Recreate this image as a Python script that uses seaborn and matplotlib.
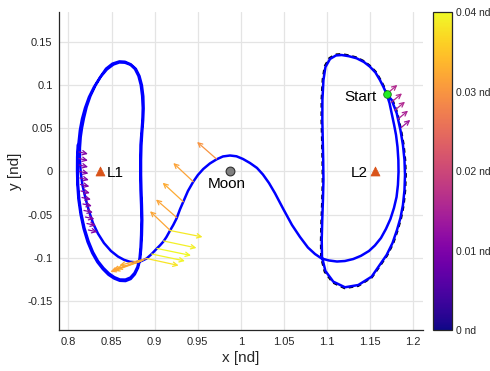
import matplotlib
matplotlib.use("Agg")
import matplotlib.pyplot as plt
from matplotlib.colors import Normalize
from matplotlib.cm import ScalarMappable
import numpy as np
import pandas as pd
import seaborn as sns

# Reference periodic orbit about L2 (dashed)
ref_x = [1.1696, 1.1757, 1.1816, 1.1858, 1.1889, 1.1907, 1.1914, 1.1907, 1.1889, 1.1859,
         1.1819, 1.1767, 1.1696, 1.1607, 1.1519, 1.1361, 1.1203, 1.1065, 1.0972, 1.0931,
         1.0928, 1.0934, 1.0943, 1.0949, 1.0946, 1.0941, 1.0935, 1.0936, 1.0949, 1.0972,
         1.1026, 1.1097, 1.1164, 1.1251, 1.1341, 1.1428, 1.1499, 1.1564, 1.1617, 1.1659,
         1.1696]
ref_y = [0.0904, 0.0835, 0.0679, 0.0484, 0.0309, 0.0134, -0.0040, -0.0216, -0.0391, -0.0542,
         -0.0682, -0.0834, -0.0974, -0.1103, -0.1227, -0.1325, -0.1351, -0.1285, -0.1161, -0.0998,
         -0.0799, -0.0566, -0.0333, -0.0099, 0.0134, 0.0368, 0.0601, 0.0835, 0.1067, 0.1219,
         0.1312, 0.1354, 0.1359, 0.1345, 0.1320, 0.1277, 0.1223, 0.1155, 0.1067, 0.0986,
         0.0904]

# Leg 1: first revolution about L2 from the start point
leg1_x = [1.1691, 1.1749, 1.1808, 1.1851, 1.1880, 1.1898, 1.1904, 1.1898, 1.1880, 1.1851,
          1.1811, 1.1759, 1.1691, 1.1602, 1.1517, 1.1362, 1.1207, 1.1072, 1.0981, 1.0941,
          1.0938, 1.0944, 1.0952, 1.0958, 1.0955, 1.0950, 1.0945, 1.0946, 1.0958, 1.0981,
          1.1034, 1.1103, 1.1169, 1.1254, 1.1343, 1.1428, 1.1497, 1.1561, 1.1613, 1.1654,
          1.1691]
leg1_y = [0.0897, 0.0828, 0.0674, 0.0480, 0.0307, 0.0133, -0.0040, -0.0214, -0.0388, -0.0538,
          -0.0677, -0.0828, -0.0966, -0.1094, -0.1217, -0.1314, -0.1340, -0.1275, -0.1152, -0.0990,
          -0.0793, -0.0562, -0.0330, -0.0098, 0.0133, 0.0365, 0.0596, 0.0828, 0.1059, 0.1209,
          0.1302, 0.1343, 0.1348, 0.1334, 0.1310, 0.1267, 0.1213, 0.1146, 0.1059, 0.0978,
          0.0897]

# Leg 2: departure from L2 and flyby past the Moon
leg2_x = [1.1691, 1.1724, 1.1749, 1.1778, 1.1800, 1.1817, 1.1827, 1.1829, 1.1822, 1.1806,
          1.1776, 1.1735, 1.1683, 1.1625, 1.1555, 1.1486, 1.1393, 1.1304, 1.1207, 1.1115,
          1.1022, 1.0937, 1.0860, 1.0778, 1.0686, 1.0593, 1.0492, 1.0396, 1.0326, 1.0256,
          1.0187, 1.0106, 1.0024, 0.9949, 0.9874, 0.9792, 0.9719, 0.9641, 0.9564, 0.9502,
          0.9448, 0.9386, 0.9332, 0.9293, 0.9255, 0.9216, 0.9177, 0.9137, 0.9102, 0.9061,
          0.9026, 0.8965, 0.8907]
leg2_y = [0.0897, 0.0793, 0.0674, 0.0538, 0.0422, 0.0284, 0.0133, -0.0006, -0.0156, -0.0295,
          -0.0422, -0.0550, -0.0665, -0.0770, -0.0856, -0.0920, -0.0976, -0.1013, -0.1036, -0.1042,
          -0.1030, -0.1007, -0.0955, -0.0880, -0.0758, -0.0619, -0.0434, -0.0252, -0.0133, -0.0035,
          0.0041, 0.0098, 0.0145, 0.0176, 0.0185, 0.0174, 0.0141, 0.0093, 0.0029, -0.0040,
          -0.0118, -0.0226, -0.0350, -0.0440, -0.0542, -0.0619, -0.0686, -0.0758, -0.0810, -0.0856,
          -0.0891, -0.0955, -0.1007]

# Leg 3: capture and revolutions about L1
leg3_x = [0.8847, 0.8783, 0.8713, 0.8644, 0.8574, 0.8493, 0.8412, 0.8342, 0.8284, 0.8238,
          0.8197, 0.8162, 0.8142, 0.8133, 0.8133, 0.8142, 0.8157, 0.8180, 0.8211, 0.8255,
          0.8313, 0.8377, 0.8446, 0.8522, 0.8591, 0.8655, 0.8719, 0.8771, 0.8812, 0.8839,
          0.8855, 0.8862, 0.8858, 0.8847, 0.8836, 0.8833, 0.8833, 0.8836, 0.8843, 0.8847,
          0.8843, 0.8836, 0.8824, 0.8800, 0.8766, 0.8719, 0.8661, 0.8597, 0.8533, 0.8470,
          0.8406, 0.8342, 0.8284, 0.8232, 0.8185, 0.8150, 0.8125, 0.8112, 0.8108, 0.8109,
          0.8117, 0.8133, 0.8157, 0.8192, 0.8238, 0.8296, 0.8365, 0.8436, 0.8510, 0.8591,
          0.8655, 0.8722, 0.8782, 0.8824, 0.8852, 0.8868, 0.8872, 0.8866, 0.8855, 0.8846,
          0.8842, 0.8842, 0.8846, 0.8852, 0.8856, 0.8852, 0.8844, 0.8831, 0.8807, 0.8770,
          0.8722, 0.8662, 0.8596, 0.8529, 0.8464, 0.8399, 0.8335, 0.8276, 0.8222, 0.8176,
          0.8141, 0.8116, 0.8104, 0.8100, 0.8101, 0.8108]
leg3_y = [-0.1036, -0.1051, -0.1045, -0.1022, -0.0984, -0.0920, -0.0828, -0.0718, -0.0596, -0.0457,
          -0.0307, -0.0156, -0.0006, 0.0133, 0.0272, 0.0399, 0.0503, 0.0619, 0.0747, 0.0874,
          0.0995, 0.1100, 0.1181, 0.1238, 0.1262, 0.1259, 0.1235, 0.1186, 0.1105, 0.1001,
          0.0874, 0.0735, 0.0596, 0.0457, 0.0307, 0.0133, -0.0040, -0.0214, -0.0388, -0.0562,
          -0.0735, -0.0885, -0.1013, -0.1105, -0.1175, -0.1227, -0.1251, -0.1250, -0.1223, -0.1180,
          -0.1117, -0.1036, -0.0932, -0.0805, -0.0654, -0.0492, -0.0318, -0.0156, 0.0006, 0.0168,
          0.0330, 0.0480, 0.0608, 0.0735, 0.0862, 0.0978, 0.1088, 0.1190, 0.1248, 0.1274,
          0.1270, 0.1241, 0.1187, 0.1104, 0.0998, 0.0870, 0.0728, 0.0588, 0.0448, 0.0297,
          0.0133, -0.0040, -0.0214, -0.0388, -0.0562, -0.0735, -0.0885, -0.1020, -0.1115, -0.1190,
          -0.1244, -0.1268, -0.1265, -0.1238, -0.1195, -0.1130, -0.1048, -0.0944, -0.0815, -0.0662,
          -0.0498, -0.0323, -0.0156, 0.0006, 0.0168, 0.0307]

# Control (thrust) vectors: application points and components
arrow_x = [1.1691, 1.1745, 1.1782, 1.1823, 1.1861,
           0.8122, 0.8122, 0.8124, 0.8128, 0.8133, 0.8139, 0.8145, 0.8157, 0.8168, 0.8180,
           0.8197, 0.8215, 0.8232,
           0.9717, 0.9448, 0.9332, 0.9255, 0.9178,
           0.9178, 0.9102, 0.9027, 0.8965, 0.8907,
           0.8907, 0.8870, 0.8847, 0.8815, 0.8783]
arrow_y = [0.0897, 0.0801, 0.0706, 0.0607, 0.0509,
           0.0226, 0.0150, 0.0075, 0.0000, -0.0075, -0.0150, -0.0226, -0.0301, -0.0376, -0.0451,
           -0.0527, -0.0602, -0.0677,
           0.0145, -0.0118, -0.0350, -0.0532, -0.0680,
           -0.0683, -0.0804, -0.0891, -0.0955, -0.1007,
           -0.1007, -0.1025, -0.1036, -0.1046, -0.1051]
arrow_u = [0.0124, 0.0124, 0.0122, 0.0116, 0.0104,
           0.0104, 0.0104, 0.0104, 0.0104, 0.0104, 0.0104, 0.0104, 0.0104, 0.0104, 0.0104,
           0.0104, 0.0104, 0.0104,
           -0.0225, -0.0232, -0.0239, -0.0240, -0.0232,
           0.0377, 0.0383, 0.0394, 0.0386, 0.0371,
           -0.0315, -0.0312, -0.0318, -0.0300, -0.0296]
arrow_v = [0.0105, 0.0103, 0.0101, 0.0097, 0.0088,
           -0.0023, -0.0023, -0.0023, -0.0023, -0.0023, -0.0023, -0.0023, -0.0023, -0.0023, -0.0023,
           -0.0023, -0.0023, -0.0023,
           0.0197, 0.0216, 0.0220, 0.0208, 0.0220,
           -0.0075, -0.0081, -0.0081, -0.0081, -0.0081,
           -0.0080, -0.0105, -0.0115, -0.0095, -0.0110]

# Libration points, Moon and start point
lib_names = ["L1", "L2"]
lib_x = [0.8369, 1.1557]
lib_y = [0.0, 0.0]
moon_x = [0.98785]
moon_y = [0.0]
start_x = [1.1691]
start_y = [0.0897]

x_ticks = [0.8, 0.85, 0.9, 0.95, 1.0, 1.05, 1.1, 1.15, 1.2]
x_tick_labels = ["0.8", "0.85", "0.9", "0.95", "1", "1.05", "1.1", "1.15", "1.2"]
y_ticks = [-0.15, -0.1, -0.05, 0.0, 0.05, 0.1, 0.15]
y_tick_labels = ["-0.15", "-0.1", "-0.05", "0", "0.05", "0.1", "0.15"]
cbar_ticks = [0.0, 0.01, 0.02, 0.03, 0.04]
cbar_labels = ["0 nd", "0.01 nd", "0.02 nd", "0.03 nd", "0.04 nd"]

sns.set_theme(style="whitegrid")
plt.rcParams["font.family"] = ["Liberation Sans", "DejaVu Sans"]

ink = "#262626"
fig = plt.figure(figsize=(4.9, 3.71), dpi=100)
ax = fig.add_axes([0.1214, 0.1097, 0.7412, 0.8580])
cax = fig.add_axes([0.8843, 0.1097, 0.0388, 0.8571])

ref = pd.DataFrame({"x": ref_x, "y": ref_y})
sns.lineplot(data=ref, x="x", y="y", sort=False, estimator=None, ax=ax,
             color="black", linewidth=1.5, linestyle=(0, (2.2, 1.8)), zorder=2)

traj = pd.DataFrame({"x": leg1_x + leg2_x[1:] + leg3_x,
                     "y": leg1_y + leg2_y[1:] + leg3_y})
sns.lineplot(data=traj, x="x", y="y", sort=False, estimator=None, ax=ax,
             color="#0000ff", linewidth=1.8, zorder=3)

cmap = plt.get_cmap("plasma")
norm = Normalize(vmin=0.0, vmax=0.04)
for x0, y0, u, v in zip(arrow_x, arrow_y, arrow_u, arrow_v):
    mag = np.hypot(u, v)
    ax.annotate("", xy=(x0 + u, y0 + v), xytext=(x0, y0),
                arrowprops=dict(arrowstyle="->,head_length=0.26,head_width=0.13",
                                color=cmap(norm(mag)), lw=0.9,
                                shrinkA=0, shrinkB=0),
                zorder=4)

sns.scatterplot(x=lib_x, y=lib_y, marker="^", s=42, color="#D95319",
                edgecolor="#D95319", ax=ax, zorder=5, legend=False)
sns.scatterplot(x=moon_x, y=moon_y, marker="o", s=40, color="#808080",
                edgecolor="#303030", linewidth=0.8, ax=ax, zorder=5, legend=False)
sns.scatterplot(x=start_x, y=start_y, marker="o", s=30, color="#22ee22",
                edgecolor="#1a7a1a", linewidth=0.6, ax=ax, zorder=6, legend=False)

txt = dict(fontsize=11, color="black", zorder=7)
ax.text(lib_x[0] + 0.008, lib_y[0] - 0.002, lib_names[0], ha="left", va="center", **txt)
ax.text(lib_x[1] - 0.008, lib_y[1] - 0.002, lib_names[1], ha="right", va="center", **txt)
ax.text(moon_x[0] - 0.004, moon_y[0] - 0.0145, "Moon", ha="center", va="center", **txt)
ax.text(start_x[0] - 0.0116, start_y[0] - 0.004, "Start", ha="right", va="center", **txt)

ax.set_xlim(0.7896, 1.2109)
ax.set_ylim(-0.1838, 0.1846)
ax.set_xticks(x_ticks)
ax.set_xticklabels(x_tick_labels)
ax.set_yticks(y_ticks)
ax.set_yticklabels(y_tick_labels)
ax.tick_params(direction="in", length=3, width=0.7, color=ink, labelcolor=ink,
               labelsize=8, pad=5)
ax.grid(True, color="#e4e4e4", linewidth=0.9)
ax.set_axisbelow(True)
for side in ["top", "right"]:
    ax.spines[side].set_visible(False)
for side in ["left", "bottom"]:
    ax.spines[side].set_color(ink)
    ax.spines[side].set_linewidth(0.9)
ax.set_xlabel("x [nd]", fontsize=11, color=ink, labelpad=3)
ax.set_ylabel("y [nd]", fontsize=11, color=ink, labelpad=4)

cb = fig.colorbar(ScalarMappable(norm=norm, cmap=cmap), cax=cax, ticks=cbar_ticks)
cb.ax.set_yticklabels(cbar_labels)
cax.grid(False)
cax.tick_params(direction="in", length=3, width=0.7, color=ink, labelcolor=ink,
                labelsize=7.5, pad=3)
cb.outline.set_edgecolor(ink)
cb.outline.set_linewidth(0.9)

fig.savefig("out.png", dpi=100)
